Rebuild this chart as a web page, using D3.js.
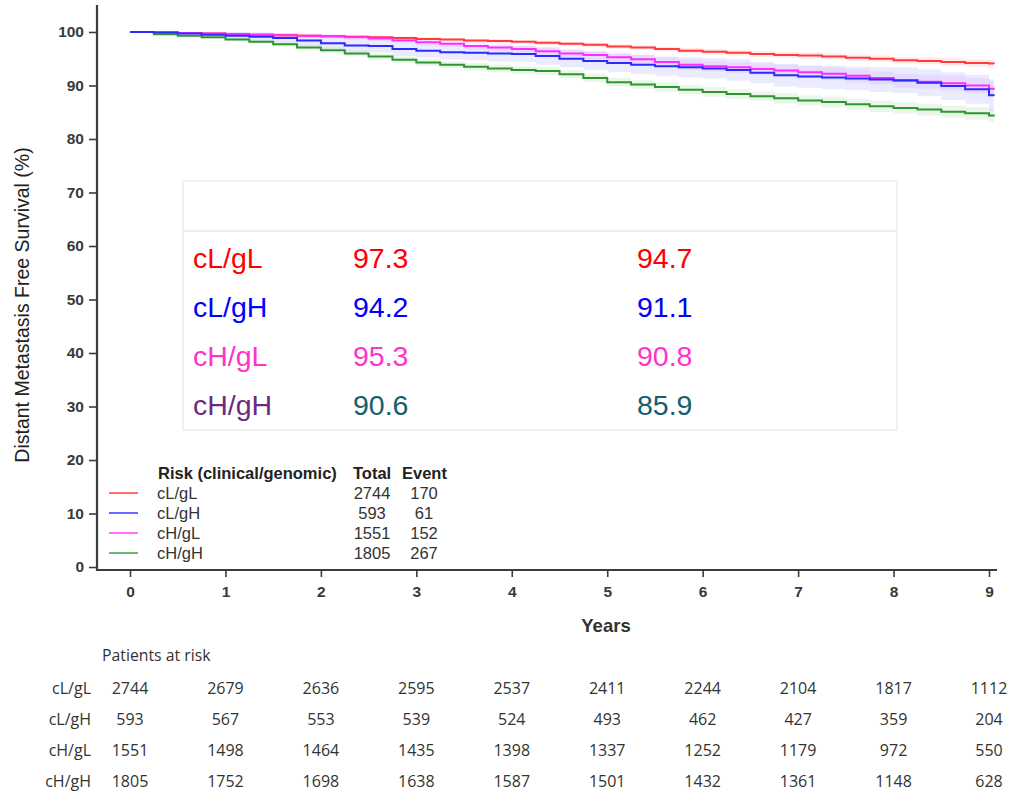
<!DOCTYPE html>
<html>
<head>
<meta charset="utf-8">
<script src="https://cdn.jsdelivr.net/npm/d3@7"></script>
<style>
  html, body { margin: 0; padding: 0; background: #fff; }
  svg { display: block; }
  text { font-family: "Liberation Sans", Arial, sans-serif; }
</style>
</head>
<body>
<svg id="chart" width="1030" height="794"></svg>
<script>
// ---------------- DATA ----------------
const groups = ["cL/gL", "cL/gH", "cH/gL", "cH/gH"];
const times = [0,0.25,0.5,0.75,1,1.25,1.5,1.75,2,2.25,2.5,2.75,3,3.25,3.5,3.75,4,4.25,4.5,4.75,5,5.25,5.5,5.75,6,6.25,6.5,6.75,7,7.25,7.5,7.75,8,8.25,8.5,8.75,9,9.05];
const survLL = [100,99.9,99.8,99.7,99.6,99.5,99.4,99.3,99.2,99.1,99.0,98.9,98.7,98.6,98.4,98.3,98.2,98.0,97.8,97.6,97.3,97.1,96.8,96.5,96.3,96.1,95.9,95.7,95.6,95.4,95.2,95.0,94.7,94.6,94.4,94.2,94.1,94.0];
const survLH = [100,99.9,99.7,99.5,99.3,99.1,98.9,98.4,97.9,97.5,97.4,96.8,96.5,96.2,96.1,96.0,95.9,95.5,95.0,94.6,94.2,93.9,93.6,93.4,93.2,92.9,92.4,91.9,91.7,91.5,91.3,91.1,91.0,90.5,89.9,89.3,88.2,88.1];
const survHL = [100,99.9,99.8,99.7,99.6,99.5,99.4,99.3,99.2,99.0,98.8,98.4,98.1,97.8,97.4,97.1,96.8,96.4,96.0,95.7,95.3,94.9,94.4,93.9,93.6,93.4,93.1,92.8,92.5,92.2,91.8,91.4,90.9,90.7,90.4,90.0,89.4,89.2];
const survHH = [100,99.6,99.3,99.0,98.6,98.2,97.7,97.1,96.6,96.0,95.4,94.8,94.3,93.9,93.5,93.2,92.9,92.7,92.1,91.4,90.6,90.2,89.7,89.2,88.8,88.4,88.0,87.6,87.2,86.9,86.5,86.1,85.8,85.5,85.1,84.8,84.4,84.2];
// half-width of the confidence band (percentage points)
const ciLL = [0,0.1,0.1,0.15,0.15,0.2,0.2,0.2,0.25,0.25,0.25,0.3,0.3,0.3,0.35,0.35,0.35,0.4,0.4,0.4,0.45,0.45,0.45,0.5,0.5,0.5,0.55,0.55,0.55,0.6,0.6,0.6,0.65,0.65,0.7,0.7,0.75,0.75];
const ciLH = [0,0.3,0.5,0.6,0.7,0.8,0.9,1.0,1.1,1.2,1.2,1.3,1.3,1.4,1.4,1.5,1.5,1.6,1.6,1.7,1.7,1.8,1.8,1.9,1.9,2.0,2.0,2.1,2.1,2.2,2.2,2.3,2.4,2.5,2.6,2.7,3.0,3.1];
const ciHL = [0,0.15,0.2,0.25,0.3,0.35,0.4,0.4,0.45,0.5,0.5,0.55,0.6,0.6,0.65,0.7,0.7,0.75,0.8,0.8,0.85,0.9,0.9,0.95,1.0,1.0,1.05,1.1,1.1,1.15,1.2,1.2,1.3,1.3,1.4,1.4,1.5,1.5];
const ciHH = [0,0.2,0.25,0.3,0.35,0.4,0.45,0.5,0.5,0.55,0.6,0.6,0.65,0.65,0.7,0.7,0.7,0.75,0.75,0.8,0.8,0.8,0.85,0.85,0.9,0.9,0.9,0.95,0.95,1.0,1.0,1.05,1.05,1.1,1.1,1.15,1.2,1.2];

const xTicks = [0,1,2,3,4,5,6,7,8,9];
const yTicks = [0,10,20,30,40,50,60,70,80,90,100];

const totals = [2744, 593, 1551, 1805];
const events = [170, 61, 152, 267];

const inset5yr = [97.3, 94.2, 95.3, 90.6];
const inset8yr = [94.7, 91.1, 90.8, 85.9];

const atRiskLL = [2744,2679,2636,2595,2537,2411,2244,2104,1817,1112];
const atRiskLH = [593,567,553,539,524,493,462,427,359,204];
const atRiskHL = [1551,1498,1464,1435,1398,1337,1252,1179,972,550];
const atRiskHH = [1805,1752,1698,1638,1587,1501,1432,1361,1148,628];

// ---------------- STYLES ----------------
const lineColors   = ["#ff3b3b", "#2b2bff", "#ff2bff", "#2f962f"];
const bandColors   = ["rgba(255,60,60,0.10)", "rgba(100,100,255,0.13)", "rgba(220,80,255,0.11)", "rgba(60,170,60,0.11)"];
const legendColors = ["#ff6f6f", "#6a6aff", "#ff6fff", "#6db86d"];
const insetLabelColors = ["#ff0000", "#0000ff", "#ff33cc", "#6b2d7b"];
const insetValueColors = ["#ff0000", "#0000ff", "#ff33cc", "#12606e"];

const survival = [survLL, survLH, survHL, survHH];
const cis = [ciLL, ciLH, ciHL, ciHH];
const atRisk = [atRiskLL, atRiskLH, atRiskHL, atRiskHH];

// ---------------- SCALES ----------------
const svg = d3.select("#chart");
const x = d3.scaleLinear().domain([0, 9]).range([130, 989]);
const y = d3.scaleLinear().domain([0, 100]).range([567, 32]);

const axisColor = "#3c3c3c";

// ---------------- BANDS & LINES ----------------
const area = d3.area()
  .x(d => x(d.t)).y0(d => y(d.v - d.c)).y1(d => y(Math.min(100, d.v + d.c)))
  .curve(d3.curveStepAfter);
const line = d3.line().x(d => x(d.t)).y(d => y(d.v)).curve(d3.curveStepAfter);

const seriesData = survival.map((s, i) => times.map((t, k) => ({t, v: s[k], c: cis[i][k]})));

const drawOrder = [3, 2, 1, 0];
svg.append("g").selectAll("path").data(drawOrder).join("path")
  .attr("d", i => area(seriesData[i]))
  .attr("fill", i => bandColors[i]);

const lineOrder = [3, 0, 2, 1];
svg.append("g").selectAll("path").data(lineOrder).join("path")
  .attr("d", i => line(seriesData[i]))
  .attr("fill", "none")
  .attr("stroke", i => lineColors[i])
  .attr("stroke-width", 2);

// ---------------- AXES ----------------
const yAxis = svg.append("g").attr("transform", "translate(97,0)")
  .call(d3.axisLeft(y).tickValues(yTicks).tickSize(8).tickSizeOuter(0).tickPadding(5));
yAxis.select(".domain").remove();
yAxis.selectAll(".tick line").attr("stroke", axisColor).attr("stroke-width", 1.6);
yAxis.selectAll(".tick text").attr("font-size", 15.5).attr("font-weight", "bold").attr("fill", "#3a3a3a")
  .attr("font-family", "Liberation Sans, Arial, sans-serif");

const xAxis = svg.append("g").attr("transform", "translate(0,570)")
  .call(d3.axisBottom(x).tickValues(xTicks).tickSize(7).tickSizeOuter(0).tickPadding(9));
xAxis.select(".domain").remove();
xAxis.selectAll(".tick line").attr("stroke", axisColor).attr("stroke-width", 1.6);
xAxis.selectAll(".tick text").attr("font-size", 15.5).attr("font-weight", "bold").attr("fill", "#3a3a3a")
  .attr("font-family", "Liberation Sans, Arial, sans-serif");

// axis lines
svg.append("line").attr("x1", 97).attr("x2", 97).attr("y1", 5).attr("y2", 571)
  .attr("stroke", axisColor).attr("stroke-width", 2.2);
svg.append("line").attr("x1", 96).attr("x2", 997).attr("y1", 570).attr("y2", 570)
  .attr("stroke", axisColor).attr("stroke-width", 2.2);

// axis titles
svg.append("text").attr("transform", "translate(29,305) rotate(-90)")
  .attr("text-anchor", "middle").attr("font-size", 19.5).attr("fill", "#222")
  .text("Distant Metastasis Free Survival (%)");
svg.append("text").attr("x", 606).attr("y", 632).attr("text-anchor", "middle")
  .attr("font-size", 18.5).attr("font-weight", "bold").attr("fill", "#333").text("Years");

// ---------------- INSET TABLE ----------------
const inset = svg.append("g");
inset.append("rect").attr("x", 183).attr("y", 181).attr("width", 714).attr("height", 249)
  .attr("fill", "#fff").attr("stroke", "#ececec").attr("stroke-width", 1.5);
inset.append("line").attr("x1", 184).attr("x2", 896).attr("y1", 231).attr("y2", 231)
  .attr("stroke", "#eeeeee").attr("stroke-width", 2);
const rowY = i => 268 + i * 49;
inset.selectAll("text.lab").data(groups).join("text").attr("class", "lab")
  .attr("x", 193).attr("y", (d, i) => rowY(i)).attr("font-size", 28.5)
  .attr("fill", (d, i) => insetLabelColors[i]).text(d => d);
inset.selectAll("text.v5").data(inset5yr).join("text").attr("class", "v5")
  .attr("x", 353).attr("y", (d, i) => rowY(i)).attr("font-size", 28.5)
  .attr("fill", (d, i) => insetValueColors[i]).text(d => d.toFixed(1));
inset.selectAll("text.v8").data(inset8yr).join("text").attr("class", "v8")
  .attr("x", 637).attr("y", (d, i) => rowY(i)).attr("font-size", 28.5)
  .attr("fill", (d, i) => insetValueColors[i]).text(d => d.toFixed(1));

// ---------------- LEGEND ----------------
const leg = svg.append("g");
leg.append("text").attr("x", 158).attr("y", 479).attr("font-size", 16.5).attr("font-weight", "bold")
  .attr("fill", "#222").text("Risk (clinical/genomic)");
leg.append("text").attr("x", 353).attr("y", 479).attr("font-size", 16.5).attr("font-weight", "bold")
  .attr("fill", "#222").text("Total");
leg.append("text").attr("x", 402).attr("y", 479).attr("font-size", 16.5).attr("font-weight", "bold")
  .attr("fill", "#222").text("Event");
const legY = i => 493 + i * 20;
leg.selectAll("line").data(groups).join("line")
  .attr("x1", 109).attr("x2", 138).attr("y1", (d, i) => legY(i)).attr("y2", (d, i) => legY(i))
  .attr("stroke", (d, i) => legendColors[i]).attr("stroke-width", 2);
leg.selectAll("text.g").data(groups).join("text").attr("class", "g")
  .attr("x", 157).attr("y", (d, i) => legY(i) + 6).attr("font-size", 16.5).attr("fill", "#333").text(d => d);
leg.selectAll("text.t").data(totals).join("text").attr("class", "t")
  .attr("x", 372).attr("y", (d, i) => legY(i) + 6).attr("text-anchor", "middle")
  .attr("font-size", 16.5).attr("fill", "#333").text(d => d);
leg.selectAll("text.e").data(events).join("text").attr("class", "e")
  .attr("x", 424).attr("y", (d, i) => legY(i) + 6).attr("text-anchor", "middle")
  .attr("font-size", 16.5).attr("fill", "#333").text(d => d);

// ---------------- PATIENTS AT RISK ----------------
const risk = svg.append("g").attr("font-family", "'Open Sans', 'Liberation Sans', sans-serif");
risk.append("text").attr("x", 102).attr("y", 661).attr("font-size", 15.8).attr("fill", "#333")
  .style("font-family", "'Open Sans', sans-serif").text("Patients at risk");
const riskY = i => 694 + i * 31;
groups.forEach((g, i) => {
  risk.append("text").attr("x", 91).attr("y", riskY(i)).attr("text-anchor", "end")
    .attr("font-size", 16).attr("fill", "#333").style("font-family", "'Open Sans', sans-serif").text(g);
  risk.selectAll("text.r" + i).data(atRisk[i]).join("text").attr("class", "r" + i)
    .attr("x", (d, k) => x(xTicks[k])).attr("y", riskY(i))
    .attr("text-anchor", "middle").attr("font-size", 16).attr("fill", "#333")
    .style("font-family", "'Open Sans', sans-serif").text(d => d);
});
</script>
</body>
</html>
